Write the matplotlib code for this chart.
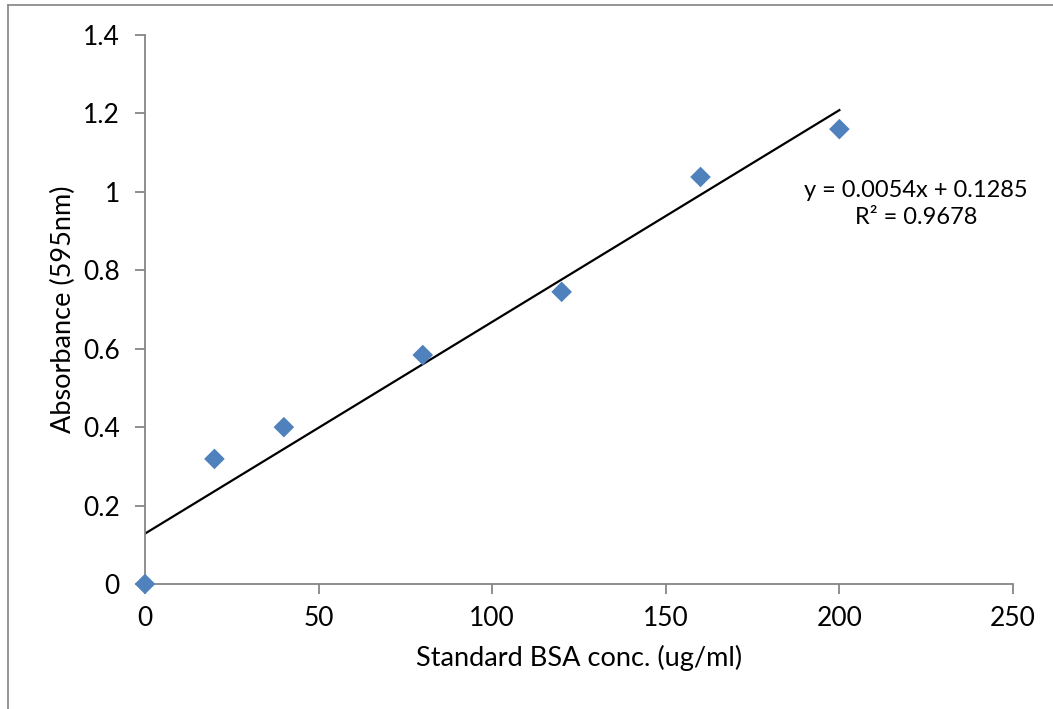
import numpy as np
import matplotlib
matplotlib.use('Agg')
import matplotlib.pyplot as plt
from matplotlib.lines import Line2D

plt.rcParams['font.family'] = ['Lato', 'DejaVu Sans']

# Standard curve data
conc = [0, 20, 40, 80, 120, 160, 200]
absorbance = [0.0, 0.319, 0.400, 0.584, 0.745, 1.038, 1.160]

# Trendline as printed on the chart
slope = 0.0054
intercept = 0.1285
r2 = 0.9678

fig = plt.figure(figsize=(10.53, 7.09), dpi=100)
ax = fig.add_axes([0.1377, 0.1763, 0.8243, 0.7743])

# Outer chart frame (gray), cropped at right and bottom
fig.add_artist(Line2D([8 / 1053, 8 / 1053], [0, 1 - 5 / 709], transform=fig.transFigure,
                      color='#8c8c8c', lw=1.3))
fig.add_artist(Line2D([8 / 1053, 1], [1 - 5 / 709, 1 - 5 / 709], transform=fig.transFigure,
                      color='#8c8c8c', lw=1.3))

# Trendline over the data range
xt = np.array([min(conc), max(conc)])
ax.plot(xt, slope * xt + intercept, color='black', lw=1.6, zorder=2)

ax.scatter(conc, absorbance, marker='D', s=110, color='#4f81bd', edgecolors='none',
           zorder=3, clip_on=False)

ax.set_xlim(0, 250)
ax.set_ylim(0, 1.4)
ax.set_xticks([0, 50, 100, 150, 200, 250])
ax.set_yticks([0, 0.2, 0.4, 0.6, 0.8, 1.0, 1.2, 1.4])
ax.set_yticklabels(['0', '0.2', '0.4', '0.6', '0.8', '1', '1.2', '1.4'])

for side in ['top', 'right']:
    ax.spines[side].set_visible(False)
for side in ['left', 'bottom']:
    ax.spines[side].set_color('#868686')
    ax.spines[side].set_linewidth(1.3)

ax.tick_params(axis='both', direction='out', length=7, width=1.3, color='#868686',
               labelsize=19, labelcolor='black')
ax.tick_params(axis='x', pad=9)
ax.tick_params(axis='y', pad=11)

ax.set_xlabel('Standard BSA conc. (ug/ml)', fontsize=19.5, labelpad=10)
ax.set_ylabel('Absorbance (595nm)', fontsize=19.5, labelpad=5)

ax.text(916 / 1053, 1 - 204 / 709, f'y = {slope}x + {intercept}\nR² = {r2}',
        transform=fig.transFigure, fontsize=17, ha='center', va='center', linespacing=1.35)

fig.savefig('out.png', dpi=100)
